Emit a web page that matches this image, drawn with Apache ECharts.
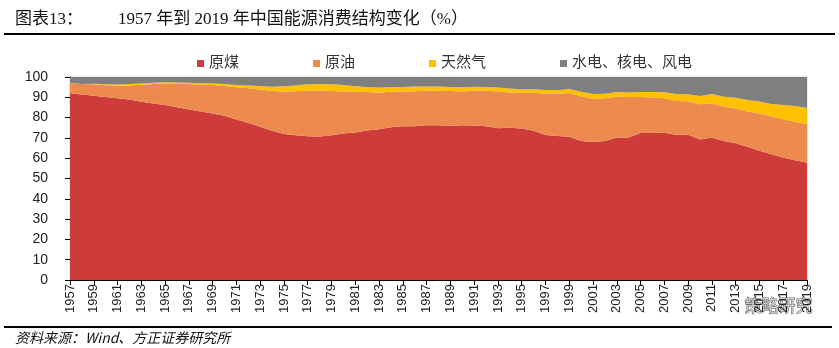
<!DOCTYPE html>
<html><head><meta charset="utf-8">
<script src="https://cdn.jsdelivr.net/npm/echarts@6/dist/echarts.min.js"></script>
<style>html,body{margin:0;padding:0;background:#fff}#c{width:839px;height:348px}</style>
</head><body><div id="c"></div>
<script>
var years = [];
for (var y = 1957; y <= 2019; y++) years.push(String(y));
var seriesNames = ['原煤', '原油', '天然气', '水电、核电、风电'];
var coal = [92.0,91.4,90.8,90.1,89.5,88.9,87.8,87.0,86.2,85.1,84.0,83.0,82.0,80.9,79.1,77.3,75.5,73.5,71.9,71.3,70.8,70.7,71.3,72.2,72.7,73.7,74.2,75.3,75.8,75.8,76.2,76.2,76.0,76.2,76.1,75.7,74.7,75.0,74.6,73.5,71.4,70.9,70.6,68.5,68.0,68.5,70.2,70.2,72.4,72.4,72.5,71.5,71.6,69.2,70.2,68.5,67.4,65.6,63.7,62.0,60.4,59.0,57.7];
var oil = [4.9,5.1,5.6,5.8,6.2,6.9,8.4,9.6,10.6,11.5,12.5,13.2,14.0,14.7,15.8,17.1,18.4,19.6,20.9,21.7,22.6,22.7,21.8,20.7,20.0,18.9,18.1,17.4,17.1,17.2,17.0,17.0,17.1,16.6,17.1,17.5,18.2,17.4,17.5,18.7,20.4,20.8,21.5,22.0,21.2,21.0,20.1,19.9,17.8,17.5,17.0,16.7,16.4,17.4,16.8,17.0,17.1,17.4,18.3,18.5,18.8,18.9,19.0];
var gas = [0.1,0.1,0.3,0.5,0.6,0.8,0.6,0.6,0.6,0.7,0.7,0.7,0.8,0.9,1.1,1.4,1.7,2.1,2.6,2.8,3.0,3.2,3.3,3.1,2.8,2.5,2.4,2.4,2.2,2.3,2.1,2.1,2.0,2.1,2.0,1.9,1.9,1.9,1.8,1.8,1.8,1.8,2.0,2.2,2.4,2.3,2.3,2.3,2.4,2.7,3.0,3.4,3.5,4.0,4.6,4.8,5.3,5.7,5.9,6.2,7.0,7.8,8.0];
var hydro = [3.0,3.4,3.3,3.6,3.7,3.4,3.2,2.8,2.6,2.7,2.8,3.1,3.2,3.5,4.0,4.2,4.4,4.8,4.6,4.2,3.6,3.4,3.6,4.0,4.5,4.9,5.3,4.9,4.9,4.7,4.7,4.7,4.9,5.1,4.8,4.9,5.2,5.7,6.1,6.0,6.4,6.5,5.9,7.3,8.4,8.2,7.4,7.6,7.4,7.4,7.5,8.4,8.5,9.4,8.4,9.7,10.2,11.3,12.1,13.3,13.8,14.3,15.3];
var yTicks = [0,10,20,30,40,50,60,70,80,90,100];
var colors = ['#CD3B3B', '#ED8B4E', '#FFC000', '#7F7F7F'];
var dataSets = [coal, oil, gas, hydro];

var chart = echarts.init(document.getElementById('c'), null, {renderer: 'canvas'});
var series = seriesNames.map(function (n, i) {
  return {
    name: n, type: 'line', stack: 'total', data: dataSets[i],
    symbol: 'none', lineStyle: {width: 0}, itemStyle: {color: colors[i]},
    areaStyle: {color: colors[i], opacity: 1}, emphasis: {disabled: true}
  };
});
var serif = "'Liberation Serif','Noto Sans CJK SC',serif";
chart.setOption({
  animation: false,
  backgroundColor: '#fff',
  grid: {left: 70, right: 32, top: 77, bottom: 68, show: true, borderColor: '#d4d4d4', borderWidth: 1},
  legend: {
    data: seriesNames, left: 192, top: 51, itemWidth: 7, itemHeight: 7, itemGap: 74,
    icon: 'rect', textStyle: {fontSize: 15, color: '#333', fontFamily: serif}
  },
  xAxis: {
    type: 'category', data: years, boundaryGap: false,
    axisLine: {lineStyle: {color: '#000', width: 1}},
    axisTick: {interval: 1, length: 5, lineStyle: {color: '#000'}},
    axisLabel: {interval: 1, rotate: 90, fontSize: 13, color: '#222', margin: 4, fontFamily: "'Liberation Sans',Arial,sans-serif"},
    splitLine: {show: false}
  },
  yAxis: {
    type: 'value', min: yTicks[0], max: yTicks[yTicks.length - 1], interval: 10,
    axisLine: {show: true, lineStyle: {color: '#000', width: 1}},
    axisTick: {show: true, length: 5, lineStyle: {color: '#000'}},
    axisLabel: {fontSize: 14, color: '#222', margin: 22, fontFamily: "'Liberation Sans',Arial,sans-serif"},
    splitLine: {show: false}
  },
  series: series,
  graphic: [
    {type: 'text', left: 15, top: 11, style: {text: '图表13：', font: '17px ' + serif, fill: '#111'}},
    {type: 'text', left: 118, top: 11, style: {text: '1957 年到 2019 年中国能源消费结构变化（%）', font: '17px ' + serif, fill: '#111'}},
    {type: 'rect', shape: {x: 4, y: 33, width: 831, height: 2}, style: {fill: '#000'}},
    {type: 'rect', shape: {x: 4, y: 326, width: 828, height: 2}, style: {fill: '#000'}},
    {type: 'text', left: 15, top: 331, style: {text: '资料来源：Wind、方正证券研究所', font: 'italic 14px "Noto Sans CJK SC",sans-serif', fill: '#111'}},
    {type: 'text', left: 744, top: 297, style: {text: '策略研究', font: '17px "Noto Sans CJK SC",sans-serif', fill: 'rgba(255,255,255,0.6)', stroke: '#666', lineWidth: 1}}
  ]
});
</script></body></html>
